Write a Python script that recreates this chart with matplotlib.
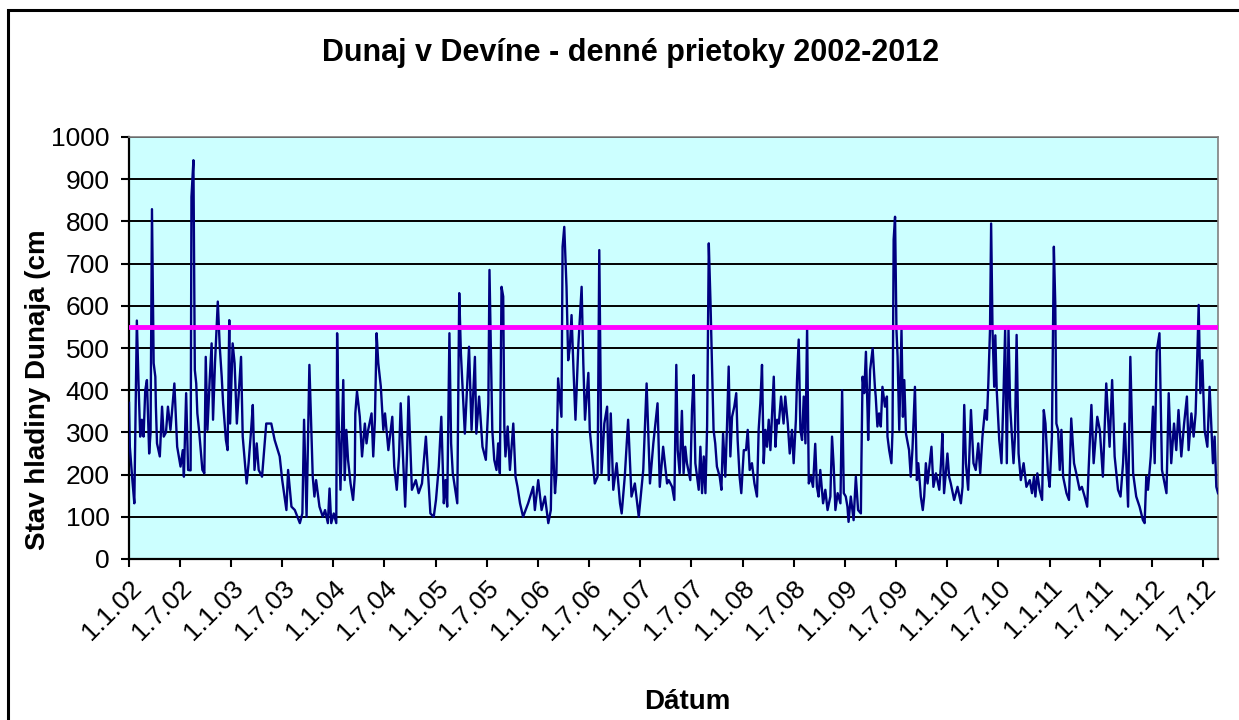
import matplotlib
matplotlib.use("Agg")
import matplotlib.pyplot as plt
import matplotlib.transforms as mtransforms
import pandas as pd
from matplotlib.patches import Rectangle

plt.rcParams["font.family"] = ["Liberation Sans", "DejaVu Sans"]

# daily water level readings at Devin (cm), key points of each flood wave and low
dates = [
    "2002-01-01", "2002-01-04", "2002-01-13", "2002-01-20", "2002-01-23", "2002-01-29", "2002-02-04", "2002-02-10",
    "2002-02-16", "2002-02-22", "2002-02-28", "2002-03-06", "2002-03-14", "2002-03-19", "2002-03-24", "2002-03-30",
    "2002-04-05", "2002-04-07", "2002-04-11", "2002-04-21", "2002-04-29", "2002-05-05", "2002-05-13", "2002-05-20",
    "2002-05-29", "2002-06-12", "2002-06-22", "2002-07-04", "2002-07-12", "2002-07-16", "2002-07-24", "2002-07-31",
    "2002-08-09", "2002-08-12", "2002-08-19", "2002-08-24", "2002-08-29", "2002-09-02", "2002-09-08", "2002-09-20",
    "2002-09-27", "2002-10-02", "2002-10-08", "2002-10-16", "2002-10-23", "2002-10-28", "2002-11-04", "2002-11-14",
    "2002-11-21", "2002-11-28", "2002-12-03", "2002-12-13", "2002-12-19", "2002-12-25", "2002-12-28", "2003-01-06",
    "2003-01-13", "2003-01-21", "2003-02-05", "2003-02-11", "2003-02-25", "2003-03-04", "2003-03-13", "2003-03-19",
    "2003-03-25", "2003-04-02", "2003-04-09", "2003-04-21", "2003-05-06", "2003-05-24", "2003-06-05", "2003-06-23",
    "2003-07-02", "2003-07-17", "2003-07-23", "2003-08-04", "2003-08-16", "2003-09-03", "2003-09-12", "2003-09-18",
    "2003-09-27", "2003-10-07", "2003-10-19", "2003-10-25", "2003-10-31", "2003-11-12", "2003-11-24", "2003-12-02",
    "2003-12-12", "2003-12-18", "2003-12-24", "2004-01-02", "2004-01-11", "2004-01-14", "2004-01-19", "2004-01-26",
    "2004-02-05", "2004-02-10", "2004-02-16", "2004-02-22", "2004-03-02", "2004-03-11", "2004-03-17", "2004-03-19",
    "2004-03-25", "2004-04-04", "2004-04-12", "2004-04-22", "2004-04-28", "2004-05-04", "2004-05-16", "2004-05-22",
    "2004-05-28", "2004-06-03", "2004-06-09", "2004-06-18", "2004-06-27", "2004-07-03", "2004-07-15", "2004-07-29",
    "2004-08-05", "2004-08-14", "2004-08-22", "2004-08-28", "2004-09-13", "2004-09-20", "2004-09-25", "2004-10-07",
    "2004-10-21", "2004-10-31", "2004-11-12", "2004-11-26", "2004-12-12", "2004-12-24", "2005-01-01", "2005-01-11",
    "2005-01-20", "2005-01-29", "2005-02-04", "2005-02-10", "2005-02-18", "2005-02-24", "2005-03-02", "2005-03-18",
    "2005-03-25", "2005-03-31", "2005-04-14", "2005-04-29", "2005-05-08", "2005-05-20", "2005-05-25", "2005-06-04",
    "2005-06-16", "2005-06-28", "2005-07-07", "2005-07-11", "2005-07-21", "2005-07-28", "2005-08-05", "2005-08-11",
    "2005-08-17", "2005-08-23", "2005-08-29", "2005-09-02", "2005-09-06", "2005-09-14", "2005-09-22", "2005-10-04",
    "2005-10-12", "2005-10-19", "2005-10-28", "2005-11-08", "2005-11-26", "2005-12-14", "2005-12-20", "2006-01-01",
    "2006-01-13", "2006-01-25", "2006-02-06", "2006-02-15", "2006-02-20", "2006-03-02", "2006-03-07", "2006-03-13",
    "2006-03-25", "2006-03-29", "2006-04-04", "2006-04-12", "2006-04-18", "2006-04-24", "2006-04-30", "2006-05-07",
    "2006-05-14", "2006-05-24", "2006-06-05", "2006-06-11", "2006-06-17", "2006-06-29", "2006-07-04", "2006-07-22",
    "2006-08-01", "2006-08-07", "2006-08-15", "2006-08-25", "2006-09-04", "2006-09-10", "2006-09-17", "2006-09-26",
    "2006-10-08", "2006-10-20", "2006-10-26", "2006-11-06", "2006-11-18", "2006-11-30", "2006-12-12", "2006-12-26",
    "2007-01-11", "2007-01-23", "2007-02-04", "2007-02-16", "2007-03-03", "2007-03-11", "2007-03-23", "2007-04-06",
    "2007-04-12", "2007-04-24", "2007-05-02", "2007-05-09", "2007-05-14", "2007-05-21", "2007-05-29", "2007-06-04",
    "2007-06-10", "2007-06-16", "2007-06-28", "2007-07-04", "2007-07-10", "2007-07-16", "2007-07-22", "2007-07-28",
    "2007-08-03", "2007-08-09", "2007-08-15", "2007-08-21", "2007-08-27", "2007-09-02", "2007-09-08", "2007-09-11",
    "2007-09-16", "2007-09-19", "2007-09-25", "2007-10-01", "2007-10-11", "2007-10-17", "2007-10-23", "2007-10-31",
    "2007-11-06", "2007-11-12", "2007-11-18", "2007-11-24", "2007-12-02", "2007-12-09", "2007-12-14", "2007-12-21",
    "2007-12-27", "2008-01-05", "2008-01-13", "2008-01-19", "2008-01-26", "2008-02-03", "2008-02-12", "2008-02-21",
    "2008-02-27", "2008-03-04", "2008-03-10", "2008-03-16", "2008-03-22", "2008-03-28", "2008-04-03", "2008-04-09",
    "2008-04-21", "2008-04-27", "2008-05-03", "2008-05-09", "2008-05-17", "2008-05-26", "2008-06-01", "2008-06-10",
    "2008-06-17", "2008-06-25", "2008-07-01", "2008-07-09", "2008-07-13", "2008-07-19", "2008-07-25", "2008-07-31",
    "2008-08-06", "2008-08-12", "2008-08-18", "2008-08-24", "2008-09-01", "2008-09-08", "2008-09-16", "2008-09-22",
    "2008-09-28", "2008-10-04", "2008-10-14", "2008-10-22", "2008-10-30", "2008-11-09", "2008-11-15", "2008-11-21",
    "2008-11-27", "2008-12-05", "2008-12-15", "2008-12-21", "2008-12-27", "2009-01-03", "2009-01-09", "2009-01-13",
    "2009-01-21", "2009-01-31", "2009-02-08", "2009-02-16", "2009-02-26", "2009-02-28", "2009-03-04", "2009-03-10",
    "2009-03-16", "2009-03-22", "2009-03-24", "2009-03-31", "2009-04-09", "2009-04-17", "2009-04-20", "2009-04-26",
    "2009-05-02", "2009-05-08", "2009-05-14", "2009-05-23", "2009-05-30", "2009-06-01", "2009-06-07", "2009-06-15",
    "2009-06-19", "2009-06-23", "2009-06-28", "2009-07-01", "2009-07-03", "2009-07-07", "2009-07-13", "2009-07-21",
    "2009-07-26", "2009-07-31", "2009-08-06", "2009-08-17", "2009-08-23", "2009-08-29", "2009-09-07", "2009-09-14",
    "2009-09-19", "2009-09-28", "2009-10-05", "2009-10-10", "2009-10-16", "2009-10-22", "2009-11-05", "2009-11-12",
    "2009-11-21", "2009-12-03", "2009-12-09", "2009-12-14", "2009-12-20", "2010-01-01", "2010-01-07", "2010-01-13",
    "2010-01-25", "2010-02-06", "2010-02-18", "2010-02-24", "2010-03-02", "2010-03-08", "2010-03-16", "2010-03-26",
    "2010-04-04", "2010-04-12", "2010-04-21", "2010-04-28", "2010-05-06", "2010-05-15", "2010-05-22", "2010-05-27",
    "2010-06-02", "2010-06-06", "2010-06-11", "2010-06-17", "2010-06-21", "2010-06-26", "2010-07-05", "2010-07-13",
    "2010-07-20", "2010-07-26", "2010-08-01", "2010-08-07", "2010-08-13", "2010-08-25", "2010-08-30", "2010-09-05",
    "2010-09-12", "2010-09-20", "2010-09-30", "2010-10-10", "2010-10-22", "2010-10-30", "2010-11-06", "2010-11-11",
    "2010-11-18", "2010-11-26", "2010-12-05", "2010-12-11", "2010-12-17", "2010-12-26", "2011-01-01", "2011-01-09",
    "2011-01-16", "2011-01-21", "2011-01-25", "2011-01-31", "2011-02-06", "2011-02-12", "2011-02-18", "2011-03-02",
    "2011-03-11", "2011-03-19", "2011-03-29", "2011-04-06", "2011-04-18", "2011-04-26", "2011-05-06", "2011-05-15",
    "2011-05-20", "2011-05-30", "2011-06-07", "2011-06-20", "2011-06-29", "2011-07-10", "2011-07-22", "2011-08-03",
    "2011-08-12", "2011-08-21", "2011-09-02", "2011-09-11", "2011-09-20", "2011-09-26", "2011-10-08", "2011-10-16",
    "2011-10-26", "2011-11-06", "2011-11-18", "2011-11-30", "2011-12-06", "2011-12-12", "2011-12-18", "2011-12-28",
    "2012-01-05", "2012-01-11", "2012-01-18", "2012-01-28", "2012-02-06", "2012-02-22", "2012-03-01", "2012-03-10",
    "2012-03-20", "2012-03-28", "2012-04-05", "2012-04-15", "2012-04-25", "2012-05-05", "2012-05-11", "2012-05-21",
    "2012-05-29", "2012-06-05", "2012-06-10", "2012-06-16", "2012-06-22", "2012-06-29", "2012-07-07", "2012-07-17",
    "2012-07-25", "2012-08-06", "2012-08-12", "2012-08-18", "2012-08-24",
]
levels = [
    370, 266, 187, 132, 282, 565, 416, 290,
    330, 290, 400, 424, 250, 300, 829, 464,
    432, 361, 274, 243, 361, 290, 300, 361,
    306, 416, 266, 219, 258, 195, 393, 211,
    210, 858, 945, 448, 416, 345, 306, 211,
    203, 479, 306, 424, 511, 330, 464, 610,
    503, 432, 369, 282, 258, 566, 321, 511,
    464, 321, 479, 290, 179, 227, 306, 365,
    211, 274, 211, 195, 321, 321, 282, 243,
    187, 116, 211, 124, 116, 85, 108, 330,
    100, 460, 195, 148, 187, 124, 100, 116,
    85, 167, 85, 108, 85, 535, 345, 164,
    424, 187, 306, 235, 179, 140, 195, 345,
    397, 337, 243, 321, 274, 306, 345, 243,
    330, 535, 464, 409, 306, 345, 258, 337,
    219, 164, 243, 369, 124, 258, 385, 164,
    187, 156, 179, 290, 108, 100, 140, 219,
    337, 132, 187, 124, 535, 274, 203, 132,
    630, 487, 297, 503, 306, 479, 297, 385,
    266, 235, 369, 685, 306, 235, 211, 274,
    203, 645, 622, 314, 243, 314, 211, 321,
    195, 171, 132, 100, 132, 171, 116, 187,
    116, 148, 85, 116, 306, 156, 203, 428,
    337, 740, 787, 645, 471, 503, 578, 448,
    330, 503, 645, 464, 330, 441, 306, 179,
    195, 732, 203, 321, 361, 187, 345, 164,
    227, 132, 108, 195, 330, 148, 179, 100,
    211, 416, 179, 274, 369, 171, 266, 179,
    187, 171, 140, 460, 258, 203, 351, 203,
    266, 227, 187, 353, 436, 227, 195, 164,
    266, 156, 243, 156, 314, 748, 610, 527,
    393, 306, 274, 219, 195, 164, 297, 195,
    314, 456, 243, 337, 361, 393, 282, 195,
    156, 258, 258, 306, 211, 227, 179, 148,
    306, 369, 460, 227, 306, 266, 330, 258,
    432, 266, 330, 321, 385, 321, 385, 321,
    250, 306, 227, 330, 424, 520, 306, 282,
    385, 274, 548, 179, 195, 171, 273, 171,
    148, 211, 132, 164, 116, 148, 290, 219,
    116, 156, 132, 400, 156, 148, 124, 88,
    148, 92, 195, 116, 108, 235, 432, 393,
    491, 345, 282, 448, 499, 408, 385, 314,
    345, 314, 408, 361, 385, 290, 258, 227,
    306, 757, 811, 661, 543, 480, 306, 543,
    337, 424, 297, 258, 195, 258, 408, 187,
    227, 148, 116, 148, 227, 179, 266, 171,
    203, 164, 227, 297, 156, 250, 195, 179,
    140, 171, 132, 171, 365, 227, 164, 353,
    227, 211, 274, 203, 290, 353, 330, 416,
    543, 795, 543, 408, 530, 400, 282, 227,
    385, 543, 227, 543, 361, 227, 290, 531,
    250, 187, 227, 171, 187, 156, 195, 148,
    203, 164, 140, 353, 321, 203, 171, 290,
    740, 606, 321, 306, 211, 306, 195, 156,
    140, 333, 227, 203, 164, 171, 148, 124,
    211, 365, 227, 337, 306, 195, 416, 266,
    424, 243, 164, 148, 227, 321, 124, 479,
    203, 148, 124, 92, 85, 195, 164, 243,
    361, 227, 491, 535, 211, 156, 393, 227,
    321, 258, 353, 243, 321, 385, 258, 345,
    290, 345, 456, 602, 393, 471, 306, 266,
    408, 227, 290, 171, 156,
]
limit_level = 550  # warning level line
y_ticks = list(range(0, 1001, 100))
tick_dates = pd.date_range("2002-01-01", "2012-07-01", freq="6MS")
tick_labels = [f"{d.day}.{d.month}.{d.strftime('%y')}" for d in tick_dates]

assert len(dates) == len(levels)
days = pd.to_datetime(dates)

W, H = 1239, 720
fig = plt.figure(figsize=(W / 100, H / 100), dpi=100)
# chart frame; its right and bottom edges run off the canvas
fig.patches.append(Rectangle((8 / W, -0.1), 1.2, 1.1 - 10 / H, transform=fig.transFigure,
                             fill=False, edgecolor="black", linewidth=2.2))

ax = fig.add_axes([129 / W, 1 - 559 / H, (1218 - 129) / W, (559 - 137) / H])
ax.set_facecolor("#CCFFFF")
ax.plot(days, levels, color="#000080", linewidth=1.7, zorder=3)
ax.axhline(limit_level, color="#FF00FF", linewidth=3.5, zorder=4)

ax.set_ylim(0, 1000)
ax.set_yticks(y_ticks)
ax.yaxis.grid(True, color="black", linewidth=1.4)
ax.set_axisbelow(True)
ax.set_xlim(days[0], days[-1])
ax.set_xticks(tick_dates)
ax.set_xticklabels(tick_labels, rotation=45, ha="right", va="top", rotation_mode="anchor")
shift = mtransforms.ScaledTranslation(14 / 100, -2 / 100, fig.dpi_scale_trans)
for lbl in ax.get_xticklabels():
    lbl.set_transform(lbl.get_transform() + shift)

ax.tick_params(axis="both", direction="out", length=6, width=1.5, labelsize=19, colors="black")
ax.tick_params(axis="x", pad=6)
ax.tick_params(axis="y", pad=8)
for side in ("left", "bottom"):
    ax.spines[side].set_color("black")
    ax.spines[side].set_linewidth(1.6)
for side in ("top", "right"):
    ax.spines[side].set_color("#808080")
    ax.spines[side].set_linewidth(1.2)

fig.text(631 / W, 1 - 53 / H, "Dunaj v Devíne - denné prietoky 2002-2012",
         ha="center", va="center", fontsize=22, fontweight="bold")
fig.text(38 / W, 1 - 390 / H, "Stav hladiny Dunaja (cm", rotation=90,
         ha="center", va="center", fontsize=20, fontweight="bold")
fig.text(687 / W, 1 - 702 / H, "Dátum", ha="center", va="center", fontsize=20, fontweight="bold")

fig.savefig("out.png", dpi=100)
